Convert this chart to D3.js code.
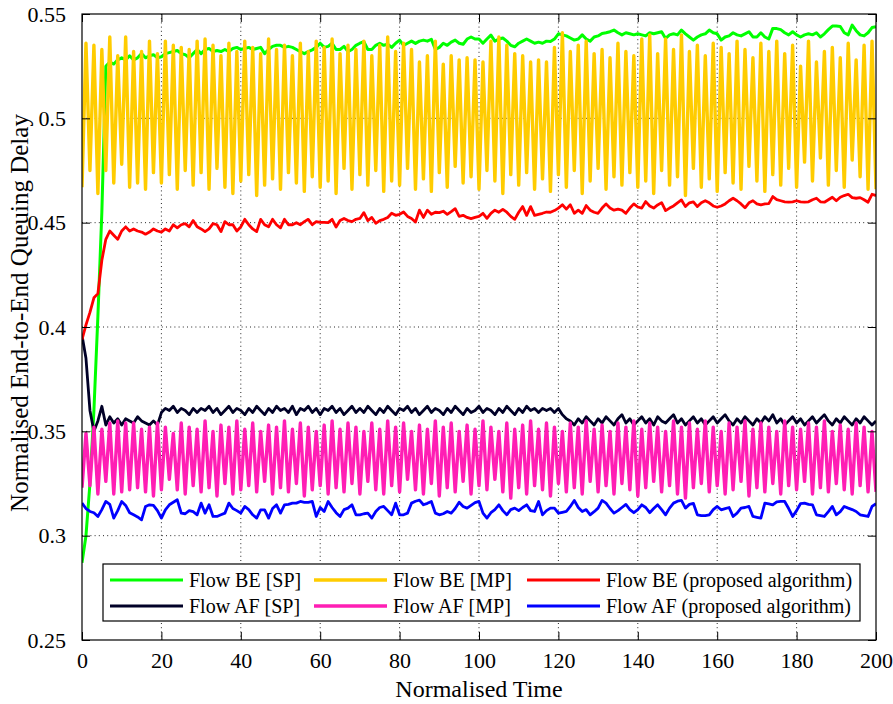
<!DOCTYPE html>
<html>
<head>
<meta charset="utf-8">
<script src="https://cdn.jsdelivr.net/npm/d3@7"></script>
<style>
  body { margin: 0; background: #fff; }
  svg text { font-family: "Liberation Serif", "Times New Roman", serif; fill: #000; }
</style>
</head>
<body>
<svg id="chart" width="893" height="704" font-family="Liberation Serif, serif"></svg>
<script>
// normalised time samples (one per unit)
const time = d3.range(0, 201);

const xTicks = [0, 20, 40, 60, 80, 100, 120, 140, 160, 180, 200];
const yTicks = [0.25, 0.3, 0.35, 0.4, 0.45, 0.5, 0.55];

// Flow BE [SP]
const beSP = [
  0.287, 0.300, 0.325, 0.360, 0.405, 0.455, 0.525, 0.527, 0.526, 0.528,
  0.529, 0.528, 0.530, 0.528, 0.529, 0.531, 0.529, 0.530, 0.5305, 0.529,
  0.5295, 0.531, 0.5315, 0.532, 0.5325, 0.531, 0.5305, 0.529, 0.531, 0.533,
  0.531, 0.533, 0.5335, 0.532, 0.5325, 0.532, 0.533, 0.532, 0.5335, 0.534,
  0.533, 0.5335, 0.534, 0.533, 0.5335, 0.534, 0.531, 0.533, 0.5345, 0.535,
  0.535, 0.534, 0.5345, 0.534, 0.533, 0.532, 0.531, 0.532, 0.5328, 0.534,
  0.536, 0.534, 0.5345, 0.536, 0.533, 0.533, 0.5345, 0.532, 0.533, 0.535,
  0.536, 0.5367, 0.533, 0.533, 0.535, 0.536, 0.535, 0.5355, 0.534, 0.536,
  0.5375, 0.535, 0.536, 0.537, 0.5359, 0.537, 0.5375, 0.537, 0.5379, 0.533,
  0.534, 0.536, 0.535, 0.5365, 0.5375, 0.536, 0.5355, 0.538, 0.539, 0.538,
  0.538, 0.536, 0.538, 0.5399, 0.537, 0.538, 0.5385, 0.537, 0.535, 0.5343,
  0.536, 0.537, 0.538, 0.537, 0.536, 0.5365, 0.536, 0.537, 0.5368, 0.538,
  0.5405, 0.540, 0.5395, 0.5385, 0.5375, 0.538, 0.540, 0.538, 0.537, 0.539,
  0.5395, 0.5407, 0.541, 0.5415, 0.5423, 0.541, 0.540, 0.541, 0.5405, 0.540,
  0.5405, 0.540, 0.5395, 0.541, 0.5405, 0.541, 0.5415, 0.5383, 0.540, 0.5405,
  0.540, 0.5423, 0.5405, 0.539, 0.5375, 0.539, 0.540, 0.5405, 0.5423, 0.541,
  0.5405, 0.5375, 0.539, 0.5395, 0.541, 0.540, 0.5395, 0.5405, 0.5415, 0.539,
  0.539, 0.541, 0.539, 0.538, 0.5431, 0.543, 0.5425, 0.541, 0.540, 0.5415,
  0.540, 0.539, 0.540, 0.5405, 0.540, 0.541, 0.539, 0.5405, 0.5425, 0.5442,
  0.5442, 0.544, 0.541, 0.540, 0.5447, 0.542, 0.540, 0.5395, 0.541, 0.5435,
  0.5439
];

// Flow AF [SP]
const afSP = [
  0.396, 0.385, 0.360, 0.350, 0.355, 0.362, 0.353, 0.357, 0.354, 0.356,
  0.353, 0.356, 0.355, 0.354, 0.357, 0.355, 0.354, 0.353, 0.355, 0.353,
  0.359, 0.361, 0.360, 0.362, 0.359, 0.361, 0.360, 0.358, 0.361, 0.359,
  0.361, 0.360, 0.362, 0.359, 0.361, 0.358, 0.360, 0.362, 0.359, 0.361,
  0.360, 0.358, 0.361, 0.359, 0.362, 0.360, 0.358, 0.361, 0.359, 0.362,
  0.360, 0.361, 0.359, 0.362, 0.358, 0.361, 0.360, 0.362, 0.359, 0.361,
  0.358, 0.361, 0.360, 0.362, 0.359, 0.361, 0.358, 0.360, 0.362, 0.359,
  0.361, 0.359, 0.362, 0.360, 0.358, 0.361, 0.359, 0.362, 0.360, 0.358,
  0.361, 0.360, 0.362, 0.359, 0.361, 0.358, 0.360, 0.362, 0.359, 0.361,
  0.360, 0.358, 0.361, 0.359, 0.362, 0.360, 0.358, 0.361, 0.359, 0.360,
  0.362, 0.359, 0.361, 0.360, 0.358, 0.361, 0.359, 0.362, 0.360, 0.358,
  0.361, 0.359, 0.362, 0.360, 0.361, 0.359, 0.361, 0.360, 0.361, 0.359,
  0.361, 0.358, 0.356, 0.355, 0.353, 0.356, 0.354, 0.357, 0.355, 0.353,
  0.356, 0.354, 0.357, 0.355, 0.353, 0.356, 0.358, 0.354, 0.356, 0.353,
  0.355, 0.357, 0.354, 0.356, 0.353, 0.357, 0.355, 0.354, 0.356, 0.358,
  0.354, 0.356, 0.353, 0.355, 0.357, 0.354, 0.356, 0.353, 0.355, 0.357,
  0.354, 0.356, 0.358, 0.355, 0.353, 0.356, 0.354, 0.357, 0.355, 0.353,
  0.356, 0.354, 0.357, 0.355, 0.358, 0.354, 0.356, 0.353, 0.355, 0.357,
  0.354, 0.356, 0.353, 0.355, 0.357, 0.354, 0.356, 0.358, 0.355, 0.353,
  0.356, 0.354, 0.357, 0.355, 0.353, 0.356, 0.354, 0.357, 0.355, 0.353,
  0.355
];

// Flow BE [MP]
const beMP = [
  0.467, 0.536, 0.475, 0.535, 0.464, 0.533, 0.475, 0.539, 0.469, 0.530,
  0.478, 0.539, 0.467, 0.532, 0.469, 0.532, 0.466, 0.537, 0.474, 0.531,
  0.469, 0.537, 0.473, 0.535, 0.466, 0.534, 0.475, 0.533, 0.468, 0.537,
  0.474, 0.538, 0.466, 0.535, 0.476, 0.530, 0.467, 0.536, 0.464, 0.532,
  0.470, 0.537, 0.473, 0.534, 0.463, 0.531, 0.468, 0.538, 0.471, 0.533,
  0.466, 0.535, 0.474, 0.530, 0.469, 0.536, 0.465, 0.532, 0.472, 0.537,
  0.467, 0.534, 0.470, 0.538, 0.464, 0.531, 0.476, 0.535, 0.466, 0.533,
  0.473, 0.537, 0.468, 0.530, 0.475, 0.535, 0.465, 0.539, 0.470, 0.532,
  0.468, 0.536, 0.476, 0.533, 0.466, 0.527, 0.471, 0.530, 0.465, 0.537,
  0.474, 0.526, 0.467, 0.530, 0.477, 0.528, 0.469, 0.529, 0.472, 0.528,
  0.466, 0.527, 0.475, 0.537, 0.470, 0.539, 0.464, 0.535, 0.473, 0.531,
  0.468, 0.530, 0.474, 0.527, 0.466, 0.528, 0.471, 0.527, 0.465, 0.534,
  0.473, 0.541, 0.467, 0.532, 0.475, 0.535, 0.464, 0.537, 0.470, 0.531,
  0.476, 0.533, 0.466, 0.529, 0.472, 0.536, 0.468, 0.532, 0.474, 0.530,
  0.467, 0.538, 0.470, 0.540, 0.464, 0.531, 0.475, 0.538, 0.468, 0.533,
  0.472, 0.540, 0.463, 0.532, 0.476, 0.535, 0.467, 0.530, 0.471, 0.536,
  0.465, 0.534, 0.474, 0.531, 0.469, 0.537, 0.466, 0.533, 0.477, 0.529,
  0.470, 0.536, 0.465, 0.532, 0.473, 0.537, 0.468, 0.531, 0.476, 0.535,
  0.467, 0.525, 0.479, 0.537, 0.470, 0.527, 0.481, 0.532, 0.468, 0.534,
  0.475, 0.529, 0.467, 0.536, 0.480, 0.528, 0.472, 0.535, 0.466, 0.537,
  0.466
];

// Flow AF [MP]
const afMP = [
  0.323, 0.349, 0.324, 0.352, 0.320, 0.351, 0.326, 0.354, 0.320, 0.355,
  0.321, 0.354, 0.322, 0.354, 0.323, 0.351, 0.321, 0.352, 0.319, 0.354,
  0.322, 0.352, 0.327, 0.349, 0.322, 0.354, 0.320, 0.352, 0.324, 0.351,
  0.321, 0.355, 0.323, 0.350, 0.319, 0.353, 0.325, 0.352, 0.320, 0.355,
  0.322, 0.351, 0.324, 0.354, 0.321, 0.350, 0.326, 0.353, 0.320, 0.352,
  0.323, 0.355, 0.321, 0.351, 0.325, 0.354, 0.319, 0.352, 0.322, 0.350,
  0.324, 0.353, 0.320, 0.355, 0.323, 0.351, 0.321, 0.354, 0.325, 0.352,
  0.320, 0.350, 0.326, 0.354, 0.322, 0.351, 0.320, 0.355, 0.324, 0.352,
  0.321, 0.354, 0.327, 0.350, 0.322, 0.353, 0.320, 0.351, 0.325, 0.355,
  0.319, 0.352, 0.323, 0.354, 0.321, 0.350, 0.326, 0.353, 0.320, 0.351,
  0.324, 0.355, 0.322, 0.352, 0.327, 0.350, 0.321, 0.354, 0.318, 0.351,
  0.323, 0.353, 0.320, 0.355, 0.324, 0.351, 0.322, 0.354, 0.319, 0.352,
  0.325, 0.350, 0.321, 0.354, 0.323, 0.352, 0.320, 0.355, 0.326, 0.351,
  0.321, 0.353, 0.324, 0.350, 0.320, 0.354, 0.325, 0.352, 0.322, 0.355,
  0.319, 0.351, 0.323, 0.354, 0.326, 0.352, 0.321, 0.350, 0.324, 0.355,
  0.320, 0.352, 0.318, 0.354, 0.323, 0.351, 0.325, 0.355, 0.321, 0.352,
  0.324, 0.350, 0.320, 0.354, 0.322, 0.352, 0.326, 0.355, 0.319, 0.351,
  0.323, 0.354, 0.321, 0.352, 0.325, 0.350, 0.320, 0.355, 0.324, 0.352,
  0.322, 0.351, 0.326, 0.354, 0.320, 0.352, 0.323, 0.355, 0.321, 0.350,
  0.325, 0.353, 0.322, 0.351, 0.320, 0.354, 0.324, 0.352, 0.321, 0.350,
  0.321
];

// Flow BE (proposed algorithm)
const beProposed = [
  0.394, 0.401, 0.407, 0.414, 0.416, 0.432, 0.442, 0.446, 0.444, 0.442,
  0.446, 0.448, 0.446, 0.447, 0.446, 0.4455, 0.4445, 0.4455, 0.447, 0.446,
  0.4455, 0.447, 0.446, 0.449, 0.4475, 0.449, 0.4495, 0.448, 0.451, 0.448,
  0.447, 0.4457, 0.447, 0.4495, 0.449, 0.4457, 0.4505, 0.449, 0.449, 0.446,
  0.448, 0.4516, 0.449, 0.447, 0.4457, 0.4516, 0.449, 0.448, 0.4516, 0.449,
  0.4475, 0.4516, 0.449, 0.449, 0.450, 0.449, 0.4505, 0.4516, 0.449, 0.4505,
  0.4501, 0.4501, 0.450, 0.4516, 0.4479, 0.451, 0.452, 0.451, 0.4505, 0.4516,
  0.452, 0.4548, 0.451, 0.4525, 0.4497, 0.451, 0.4516, 0.4525, 0.4545, 0.4535,
  0.454, 0.4551, 0.453, 0.452, 0.4503, 0.456, 0.4525, 0.456, 0.454, 0.455,
  0.4548, 0.4555, 0.454, 0.4553, 0.4567, 0.453, 0.4535, 0.4525, 0.4519, 0.4525,
  0.453, 0.4545, 0.4521, 0.4545, 0.456, 0.455, 0.4564, 0.455, 0.453, 0.4516,
  0.455, 0.4577, 0.4535, 0.4577, 0.4535, 0.454, 0.4545, 0.4551, 0.455, 0.4558,
  0.457, 0.4586, 0.4565, 0.4586, 0.4545, 0.456, 0.4545, 0.4582, 0.456, 0.455,
  0.4545, 0.457, 0.459, 0.457, 0.456, 0.4565, 0.456, 0.4545, 0.457, 0.459,
  0.4575, 0.457, 0.4601, 0.458, 0.457, 0.4585, 0.4596, 0.4558, 0.457, 0.458,
  0.4595, 0.4609, 0.4577, 0.4595, 0.460, 0.4577, 0.4595, 0.4605, 0.4595, 0.458,
  0.4574, 0.458, 0.459, 0.4605, 0.4617, 0.4605, 0.459, 0.4571, 0.4595, 0.4605,
  0.459, 0.4585, 0.459, 0.4591, 0.4625, 0.461, 0.4605, 0.460, 0.4598, 0.460,
  0.4605, 0.460, 0.4598, 0.460, 0.461, 0.4617, 0.460, 0.4598, 0.461, 0.4622,
  0.4605, 0.4622, 0.463, 0.4636, 0.462, 0.4617, 0.462, 0.461, 0.4598, 0.4636,
  0.463
];

// Flow AF (proposed algorithm)
const afProposed = [
  0.3156, 0.313, 0.3116, 0.311, 0.3092, 0.3125, 0.3164, 0.315, 0.3084, 0.312,
  0.3164, 0.3145, 0.311, 0.3100, 0.309, 0.3076, 0.314, 0.3148, 0.3145, 0.312,
  0.3084, 0.3124, 0.3148, 0.316, 0.3172, 0.3108, 0.3105, 0.312, 0.3115, 0.310,
  0.3156, 0.3108, 0.3148, 0.3092, 0.3092, 0.310, 0.3108, 0.3156, 0.313, 0.312,
  0.3108, 0.314, 0.3125, 0.310, 0.3084, 0.3124, 0.3124, 0.3084, 0.313, 0.3148,
  0.3108, 0.3148, 0.315, 0.3156, 0.3156, 0.3164, 0.316, 0.316, 0.3164, 0.3092,
  0.3135, 0.3116, 0.3164, 0.3135, 0.311, 0.3092, 0.3125, 0.3132, 0.3148, 0.3100,
  0.3100, 0.3105, 0.3108, 0.3084, 0.3116, 0.3135, 0.314, 0.312, 0.3100, 0.3156,
  0.310, 0.3100, 0.3108, 0.3156, 0.3165, 0.317, 0.3148, 0.3155, 0.3164, 0.3108,
  0.3100, 0.3105, 0.3116, 0.3108, 0.313, 0.316, 0.314, 0.3132, 0.3145, 0.3158,
  0.3164, 0.3108, 0.3084, 0.311, 0.3125, 0.3148, 0.312, 0.3100, 0.3125, 0.3132,
  0.312, 0.3135, 0.3148, 0.312, 0.3116, 0.3164, 0.3100, 0.312, 0.3132, 0.3132,
  0.3108, 0.3112, 0.3116, 0.314, 0.3169, 0.3135, 0.3116, 0.3125, 0.3100, 0.3115,
  0.3132, 0.3169, 0.3156, 0.313, 0.3108, 0.312, 0.3135, 0.315, 0.3125, 0.311,
  0.3125, 0.3148, 0.3135, 0.311, 0.313, 0.3148, 0.3125, 0.3100, 0.3132, 0.3156,
  0.3165, 0.3169, 0.3132, 0.315, 0.3155, 0.3100, 0.3096, 0.3096, 0.3100, 0.3125,
  0.3140, 0.3124, 0.313, 0.3135, 0.3092, 0.3108, 0.3132, 0.3135, 0.3140, 0.3092,
  0.3088, 0.3084, 0.3156, 0.3152, 0.3148, 0.3162, 0.3164, 0.3164, 0.3130, 0.3092,
  0.3120, 0.3154, 0.3156, 0.3150, 0.3148, 0.3100, 0.3096, 0.3092, 0.3115, 0.3140,
  0.3100, 0.3115, 0.3140, 0.3132, 0.3125, 0.3116, 0.3100, 0.3096, 0.3092, 0.3140,
  0.3153
];

// drawing order follows the legend (column by column)
const series = [
  { name: 'Flow BE [SP]', values: beSP, color: '#00ff00', width: 3 },
  { name: 'Flow AF [SP]', values: afSP, color: '#000027', width: 2.8 },
  { name: 'Flow BE [MP]', values: beMP, color: '#ffcc00', width: 3.4 },
  { name: 'Flow AF [MP]', values: afMP, color: '#ff1eb4', width: 3.4 },
  { name: 'Flow BE (proposed algorithm)', values: beProposed, color: '#ff0000', width: 2.8 },
  { name: 'Flow AF (proposed algorithm)', values: afProposed, color: '#0000ff', width: 2.8 }
];

const margin = { top: 14, right: 17, bottom: 64, left: 82 };
const width = 893 - margin.left - margin.right;
const height = 704 - margin.top - margin.bottom;

const svg = d3.select('#chart');
const g = svg.append('g').attr('transform', `translate(${margin.left},${margin.top})`);

const x = d3.scaleLinear().domain([0, 200]).range([0, width]);
const y = d3.scaleLinear().domain([0.25, 0.55]).range([height, 0]);

// dotted grid
g.append('g')
  .selectAll('line')
  .data(xTicks.slice(1, -1))
  .join('line')
  .attr('x1', d => x(d)).attr('x2', d => x(d))
  .attr('y1', 0).attr('y2', height)
  .attr('stroke', '#262626').attr('stroke-width', 1)
  .attr('stroke-dasharray', '1,3.2');

g.append('g')
  .selectAll('line')
  .data(yTicks.slice(1, -1))
  .join('line')
  .attr('y1', d => y(d)).attr('y2', d => y(d))
  .attr('x1', 0).attr('x2', width)
  .attr('stroke', '#262626').attr('stroke-width', 1)
  .attr('stroke-dasharray', '1,3.2');

// series lines
g.append('clipPath').attr('id', 'plot-clip')
  .append('rect').attr('width', width).attr('height', height);

const line = d3.line()
  .x((d, i) => x(time[i]))
  .y(d => y(d));

g.append('g')
  .attr('clip-path', 'url(#plot-clip)')
  .selectAll('path')
  .data(series)
  .join('path')
  .attr('d', d => line(d.values))
  .attr('fill', 'none')
  .attr('stroke', d => d.color)
  .attr('stroke-width', d => d.width)
  .attr('stroke-linejoin', 'round');

// axes, ticks inward on all four sides
const tickLen = 8;
const fmtY = d => String(d);

const xAxis = g.append('g').attr('transform', `translate(0,${height})`)
  .call(d3.axisBottom(x).tickValues(xTicks).tickSizeInner(-tickLen).tickSizeOuter(0).tickPadding(12));
const yAxis = g.append('g')
  .call(d3.axisLeft(y).tickValues(yTicks).tickFormat(fmtY).tickSizeInner(-tickLen).tickSizeOuter(0).tickPadding(16));
g.append('g')
  .call(d3.axisTop(x).tickValues(xTicks).tickSizeInner(-tickLen).tickSizeOuter(0).tickFormat(''));
g.append('g').attr('transform', `translate(${width},0)`)
  .call(d3.axisRight(y).tickValues(yTicks).tickSizeInner(-tickLen).tickSizeOuter(0).tickFormat(''));

g.selectAll('.domain').remove();
g.selectAll('.tick line').attr('stroke', '#000').attr('stroke-width', 1);
xAxis.selectAll('text').attr('font-size', 22).style('font-family', '"Liberation Serif", serif');
yAxis.selectAll('text').attr('font-size', 22).style('font-family', '"Liberation Serif", serif');

// box
g.append('rect')
  .attr('width', width).attr('height', height)
  .attr('fill', 'none').attr('stroke', '#000').attr('stroke-width', 1.2);

// axis titles
svg.append('text')
  .attr('x', margin.left + width / 2).attr('y', 697)
  .attr('text-anchor', 'middle').attr('font-size', 24)
  .text('Normalised Time');

svg.append('text')
  .attr('transform', `translate(28,${margin.top + height / 2 - 14}) rotate(-90)`)
  .attr('text-anchor', 'middle').attr('font-size', 25)
  .text('Normalised End-to-End Queuing Delay');

// legend
const legend = svg.append('g');
legend.append('rect')
  .attr('x', 103).attr('y', 564).attr('width', 757).attr('height', 57)
  .attr('fill', '#fff').attr('stroke', '#000').attr('stroke-width', 1.2);

const colX = [110, 314, 527];
const rowY = [580, 606];
series.forEach((s, i) => {
  const cx = colX[Math.floor(i / 2)];
  const cy = rowY[i % 2];
  legend.append('line')
    .attr('x1', cx).attr('x2', cx + 73)
    .attr('y1', cy).attr('y2', cy)
    .attr('stroke', s.color).attr('stroke-width', s.width);
  legend.append('text')
    .attr('x', cx + 79).attr('y', cy).attr('dy', '0.33em')
    .attr('font-size', 20)
    .text(s.name);
});
</script>
</body>
</html>
